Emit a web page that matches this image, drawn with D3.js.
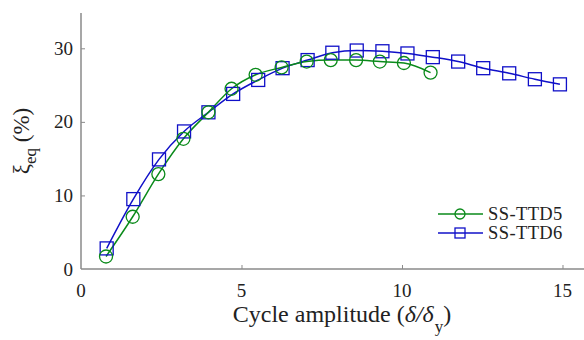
<!DOCTYPE html>
<html>
<head>
<meta charset="utf-8">
<script src="https://cdn.jsdelivr.net/npm/d3@7"></script>
<style>
  body { margin: 0; background: #fff; }
  text { font-family: "Liberation Serif", "Times New Roman", serif; fill: #222; }
</style>
</head>
<body>
<svg width="584" height="340"></svg>
<script>
// values
var ttd5X = [0.78, 1.61, 2.41, 3.19, 3.97, 4.69, 5.44, 6.25, 7.03, 7.78, 8.57, 9.31, 10.06, 10.89];
var ttd5Y = [1.7, 7.1, 12.9, 17.7, 21.3, 24.5, 26.4, 27.4, 28.2, 28.4, 28.4, 28.2, 28.0, 26.7];
var ttd6X = [0.8, 1.63, 2.43, 3.21, 3.97, 4.74, 5.52, 6.28, 7.06, 7.83, 8.59, 9.39, 10.17, 10.96, 11.75, 12.53, 13.34, 14.14, 14.92];
var ttd6Y = [2.8, 9.5, 14.9, 18.7, 21.3, 23.8, 25.7, 27.3, 28.4, 29.4, 29.7, 29.6, 29.3, 28.8, 28.2, 27.3, 26.6, 25.8, 25.1];
var xTicks = [0, 5, 10, 15];
var yTicks = [0, 10, 20, 30];
var seriesNames = ["SS-TTD5", "SS-TTD6"];

var svg = d3.select("svg");
// plot box (note: "top" is taken by window.top)
var pLeft = 81, pRight = 584, pTop = 13, pBottom = 269;
var green = "#0a8a1a", blue = "#1010c8", axisColor = "#8a8a8a";

var x = d3.scaleLinear().domain([0, 15.67]).range([pLeft, pRight]);
var y = d3.scaleLinear().domain([0, 34.8]).range([pBottom, pTop]);

// axes, ticks pointing inward
var xAxis = svg.append("g")
  .attr("transform", "translate(0," + pBottom + ")")
  .call(d3.axisTop(x).tickValues(xTicks).tickSize(4).tickFormat(""));
var yAxis = svg.append("g")
  .attr("transform", "translate(" + pLeft + ",0)")
  .call(d3.axisRight(y).tickValues(yTicks).tickSize(4).tickFormat(""));
svg.selectAll(".domain").attr("stroke", axisColor).attr("stroke-width", 1.5);
svg.selectAll(".tick line").attr("stroke", axisColor).attr("stroke-width", 1);
xAxis.select(".domain").attr("d", "M" + pLeft + ",0H" + pRight);
yAxis.select(".domain").attr("d", "M0," + pTop + "V" + pBottom);
xAxis.selectAll(".tick").filter(function(d) { return d === 0; }).remove();
yAxis.selectAll(".tick").filter(function(d) { return d === 0; }).remove();

// tick labels
svg.selectAll(".xlab").data(xTicks).enter().append("text")
  .attr("x", function(d) { return x(d); })
  .attr("y", 297)
  .attr("text-anchor", "middle")
  .attr("font-size", 19)
  .text(function(d) { return d; });
svg.selectAll(".ylab").data(yTicks).enter().append("text")
  .attr("x", 73)
  .attr("y", function(d) { return y(d) + 6.5; })
  .attr("text-anchor", "end")
  .attr("font-size", 19)
  .text(function(d) { return d; });

// axis titles
var xt = svg.append("text")
  .attr("x", 342).attr("y", 322)
  .attr("text-anchor", "middle")
  .attr("font-size", 24);
xt.append("tspan").text("Cycle amplitude (");
xt.append("tspan").attr("font-style", "italic").text("\u03b4/\u03b4");
xt.append("tspan").attr("font-size", 17).attr("dy", 10).attr("dx", 1).text("y");
xt.append("tspan").attr("dy", -10).text(")");

var yt = svg.append("text")
  .attr("transform", "translate(29,141) rotate(-90)")
  .attr("text-anchor", "middle")
  .attr("font-size", 23);
yt.append("tspan").text("\u03be");
yt.append("tspan").attr("font-size", 17).attr("dy", 7).text("eq");
yt.append("tspan").attr("dy", -7).text(" (%)");

// series
var line = d3.line().curve(d3.curveMonotoneX)
  .x(function(d) { return x(d[0]); })
  .y(function(d) { return y(d[1]); });
var s5 = d3.zip(ttd5X, ttd5Y), s6 = d3.zip(ttd6X, ttd6Y);

svg.append("path").datum(s6).attr("d", line)
  .attr("fill", "none").attr("stroke", blue).attr("stroke-width", 1.5);
svg.append("path").datum(s5).attr("d", line)
  .attr("fill", "none").attr("stroke", green).attr("stroke-width", 1.5);

svg.selectAll(".sq").data(s6).enter().append("rect")
  .attr("x", function(d) { return x(d[0]) - 6.5; })
  .attr("y", function(d) { return y(d[1]) - 6.5; })
  .attr("width", 13).attr("height", 13)
  .attr("fill", "none").attr("stroke", blue).attr("stroke-width", 1.3);
svg.selectAll(".ci").data(s5).enter().append("circle")
  .attr("cx", function(d) { return x(d[0]); })
  .attr("cy", function(d) { return y(d[1]); })
  .attr("r", 6.5)
  .attr("fill", "none").attr("stroke", green).attr("stroke-width", 1.3);

// legend
var legY = [214, 233], legCol = [green, blue];
var leg = svg.selectAll(".leg").data(seriesNames).enter().append("g")
  .attr("transform", function(d, i) { return "translate(0," + legY[i] + ")"; });
leg.append("line").attr("x1", 438).attr("x2", 483)
  .attr("stroke", function(d, i) { return legCol[i]; }).attr("stroke-width", 1.5);
leg.filter(function(d, i) { return i === 0; }).append("circle")
  .attr("cx", 460).attr("r", 5).attr("fill", "none")
  .attr("stroke", green).attr("stroke-width", 1.3);
leg.filter(function(d, i) { return i === 1; }).append("rect")
  .attr("x", 455).attr("y", -5).attr("width", 10).attr("height", 10)
  .attr("fill", "none").attr("stroke", blue).attr("stroke-width", 1.3);
leg.append("text").attr("x", 488).attr("y", 6)
  .attr("font-size", 18.5).attr("letter-spacing", 0.4)
  .text(function(d) { return d; });
</script>
</body>
</html>
